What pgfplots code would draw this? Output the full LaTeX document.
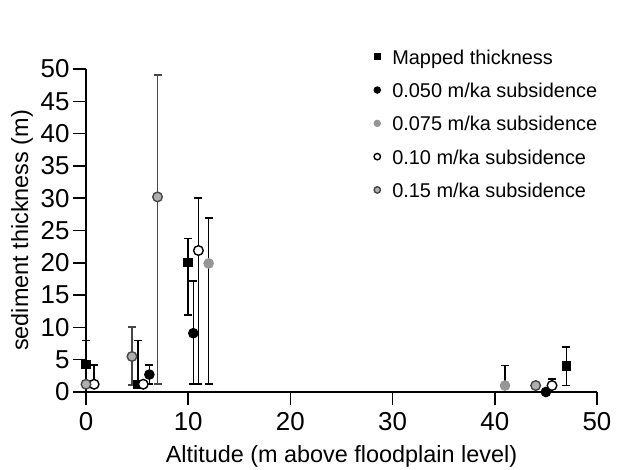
\documentclass[border=0pt]{standalone}
\usepackage{fontspec}
\setmainfont{Liberation Sans}
\usepackage{pgfplots}
\pgfplotsset{compat=1.18}
\usepackage{pgfplotstable}

\definecolor{grey75}{RGB}{150,150,150}
\definecolor{grey15}{RGB}{175,175,175}
\definecolor{edge15}{RGB}{70,70,70}

% x, y, error up, error down
\pgfplotstableread{
x y ep em
0 4.3 3.7 3.1
5.1 1.2 6.8 0
10 20 3.8 8.1
47 4 3 3
}\mapped
\pgfplotstableread{
x y ep em
6.2 2.7 1.5 1.5
10.5 9.1 8.1 7.9
45 0 0 0
}\sfifty
\pgfplotstableread{
x y ep em
12 19.9 7.0 18.7
41 1.0 3.1 0
}\sseventyfive
\pgfplotstableread{
x y ep em
0.8 1.2 3.0 0
5.6 1.2 0 0
11 21.9 8.1 20.7
45.6 1.0 1.0 0
}\sten
\pgfplotstableread{
x y ep em
0 1.2 0 0
4.5 5.5 4.6 4.4
7 30.2 18.9 29.0
44 1.0 0 0
}\sfifteen

\pgfplotsset{
  errs/.style={
    error bars/.cd, y dir=both, y explicit,
    error bar style={line width=1.5bp, #1},
    error mark options={rotate=90, line width=1.5bp, mark size=4bp, #1},
  },
}

\begin{document}
\begin{tikzpicture}
\useasboundingbox (0,0) rectangle (629bp,470bp);
\begin{axis}[
  at={(86bp,78bp)}, anchor=south west,
  scale only axis, width=511bp, height=323bp,
  xmin=0, xmax=50, ymin=0, ymax=50,
  clip=false,
  axis x line*=bottom, axis y line*=left,
  axis line style={line width=1.5bp},
  tick align=outside, major tick length=13bp,
  tick style={line width=1.5bp, black},
  xtick={0,10,...,50}, ytick={0,5,...,50},
  tick label style={font=\fontsize{26}{26}\selectfont},
  xticklabel style={yshift=-4bp},
  /pgf/number format/assume math mode=true,
  xlabel={Altitude (m above floodplain level)},
  ylabel={sediment thickness (m)},
  label style={font=\fontsize{23.5}{24}\selectfont},
  xlabel style={at={(axis description cs:0.5,-0.2198)}, anchor=base},
  ylabel style={at={(axis description cs:-0.1252,0.5)}, anchor=center},
  legend cell align=left,
  legend image code/.code={%
    \path[draw=none, fill=none] (-5bp,0bp) (15bp,0bp);
    \pgfplotsset{error bars/y dir=none}%
    \draw[#1, mark size=3.2bp] plot coordinates {(0bp,2bp)};},
  legend style={at={(axis cs:27.7,53.4)}, anchor=north west,
    draw=none, fill=none, row sep=14.3bp,
    font=\fontsize{20}{20}\selectfont,
    nodes={inner sep=0pt, text height=15bp, text depth=4bp}},
]
\addplot[only marks, mark=square*, mark size=4.2bp, black,
  mark options={fill=black, line width=1bp}, errs=black]
  table[x=x, y=y, y error plus=ep, y error minus=em] {\mapped};
\addlegendentry{Mapped thickness}

\addplot[only marks, mark=*, mark size=4.8bp, black,
  mark options={fill=black, line width=1bp}, errs=black]
  table[x=x, y=y, y error plus=ep, y error minus=em] {\sfifty};
\addlegendentry{0.050 m/ka subsidence}

\addplot[only marks, mark=*, mark size=4.8bp, grey75,
  mark options={fill=grey75, draw=grey75, line width=1bp}, errs=black]
  table[x=x, y=y, y error plus=ep, y error minus=em] {\sseventyfive};
\addlegendentry{0.075 m/ka subsidence}

\addplot[only marks, mark=*, mark size=4.8bp, black,
  mark options={fill=white, draw=black, line width=1.4bp}, errs=black]
  table[x=x, y=y, y error plus=ep, y error minus=em] {\sten};
\addlegendentry{0.10 m/ka subsidence}

\addplot[only marks, mark=*, mark size=4.8bp, edge15,
  mark options={fill=grey15, draw=edge15, line width=1.4bp}, errs=edge15]
  table[x=x, y=y, y error plus=ep, y error minus=em] {\sfifteen};
\addlegendentry{0.15 m/ka subsidence}
\end{axis}
\end{tikzpicture}
\end{document}
